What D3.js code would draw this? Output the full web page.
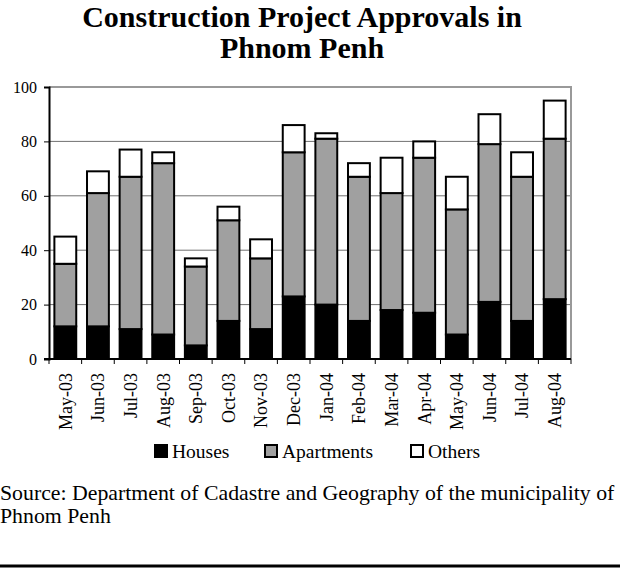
<!DOCTYPE html>
<html>
<head>
<meta charset="utf-8">
<script src="https://cdn.jsdelivr.net/npm/d3@7"></script>
<style>
  body { margin: 0; background: #fff; }
  svg { display: block; }
  text { font-family: "Liberation Serif", "Times New Roman", serif; fill: #000; }
</style>
</head>
<body>
<div id="chart-area"></div>
<script>
// data
var months = ["May-03", "Jun-03", "Jul-03", "Aug-03", "Sep-03", "Oct-03", "Nov-03", "Dec-03",
              "Jan-04", "Feb-04", "Mar-04", "Apr-04", "May-04", "Jun-04", "Jul-04", "Aug-04"];
var houses     = [12, 12, 11, 9, 5, 14, 11, 23, 20, 14, 18, 17, 9, 21, 14, 22];
var apartments = [23, 49, 56, 63, 29, 37, 26, 53, 61, 53, 43, 57, 46, 58, 53, 59];
var others     = [10, 8, 10, 4, 3, 5, 7, 10, 2, 5, 13, 6, 12, 11, 9, 14];
var seriesNames = ["Houses", "Apartments", "Others"];
var yTicks = [0, 20, 40, 60, 80, 100];

var colors = {Houses: "#000000", Apartments: "#a0a0a0", Others: "#ffffff"};

var width = 620, height = 574;
var plot = {left: 49, right: 571, top: 87, bottom: 359};

var svg = d3.select("#chart-area").append("svg")
    .attr("width", width)
    .attr("height", height);

// title
var title = svg.append("text")
    .attr("text-anchor", "middle")
    .attr("font-size", "30px")
    .attr("font-weight", "bold");
title.append("tspan").attr("x", 302).attr("y", 27).text("Construction Project Approvals in");
title.append("tspan").attr("x", 302).attr("y", 58).text("Phnom Penh");

var table = months.map((m, i) => {
  return {month: m, Houses: houses[i], Apartments: apartments[i], Others: others[i]};
});

var x = d3.scaleBand()
    .domain(months)
    .range([plot.left, plot.right])
    .paddingInner(0.33)
    .paddingOuter(0.165);

var y = d3.scaleLinear()
    .domain([0, 100])
    .range([plot.bottom, plot.top]);

// gridlines
svg.append("g")
  .selectAll("line")
  .data(yTicks.filter(d => d > 0 && d < 100))
  .enter().append("line")
    .attr("x1", plot.left).attr("x2", plot.right)
    .attr("y1", d => y(d)).attr("y2", d => y(d))
    .attr("stroke", "#707070")
    .attr("stroke-width", 1);

// plot border (top + right in grey)
svg.append("path")
    .attr("d", "M" + plot.left + "," + y(100) + "H" + plot.right + "V" + y(0))
    .attr("fill", "none")
    .attr("stroke", "#999")
    .attr("stroke-width", 2);

// stacked bars
var stacked = d3.stack().keys(seriesNames)(table);

svg.append("g")
  .selectAll("g")
  .data(stacked)
  .enter().append("g")
    .attr("fill", d => colors[d.key])
  .selectAll("rect")
  .data(d => d)
  .enter().append("rect")
    .attr("x", d => x(d.data.month))
    .attr("y", d => y(d[1]))
    .attr("width", x.bandwidth())
    .attr("height", d => y(d[0]) - y(d[1]))
    .attr("stroke", "#000")
    .attr("stroke-width", 2);

// y axis
var leftAxis = d3.axisLeft(y).tickValues(yTicks).tickSize(5).tickPadding(7);
var gy = svg.append("g")
    .attr("class", "left axis")
    .attr("transform", "translate(" + plot.left + ",0)")
    .call(leftAxis);
gy.select(".domain").attr("stroke", "#000").attr("stroke-width", 2);
gy.selectAll(".tick line").attr("stroke", "#000");
gy.selectAll("text")
    .attr("font-family", null)
    .attr("font-size", "16px");
gy.attr("font-family", null).attr("font-size", null);

// x axis: ticks at category boundaries
var gx = svg.append("g").attr("class", "bottom axis");
gx.append("line")
    .attr("x1", plot.left - 5).attr("x2", plot.right)
    .attr("y1", plot.bottom).attr("y2", plot.bottom)
    .attr("stroke", "#000").attr("stroke-width", 2);
var step = x.step();
var bounds = d3.range(months.length + 1).map(i => plot.left + i * step);
gx.selectAll(".btick")
  .data(bounds)
  .enter().append("line")
    .attr("class", "btick")
    .attr("x1", d => d).attr("x2", d => d)
    .attr("y1", plot.bottom).attr("y2", plot.bottom + 5)
    .attr("stroke", "#000");
gx.selectAll(".mlabel")
  .data(months)
  .enter().append("text")
    .attr("class", "mlabel")
    .attr("transform", d => "translate(" + (x(d) + x.bandwidth() / 2) + "," + 373 + ") rotate(-90)")
    .attr("text-anchor", "end")
    .attr("dy", "0.35em")
    .attr("font-size", "18px")
    .text(d => d);

// legend
var legendX = [154, 264, 410];
var legend = svg.append("g").selectAll("g")
  .data(seriesNames)
  .enter().append("g")
    .attr("transform", (d, i) => "translate(" + legendX[i] + ",444)");
legend.append("rect")
    .attr("x", 1).attr("y", 1)
    .attr("width", 12).attr("height", 12)
    .attr("fill", d => colors[d])
    .attr("stroke", "#000")
    .attr("stroke-width", 2);
legend.append("text")
    .attr("x", 18).attr("y", 13.5)
    .attr("font-size", "19.5px")
    .text(d => d);

// source note
var note = svg.append("text").attr("font-size", "21.8px");
note.append("tspan").attr("x", 0).attr("y", 500)
    .text("Source: Department of Cadastre and Geography of the municipality of");
note.append("tspan").attr("x", 0).attr("y", 523).text("Phnom Penh");

svg.append("line")
    .attr("x1", 0).attr("x2", width)
    .attr("y1", 566).attr("y2", 566)
    .attr("stroke", "#000")
    .attr("stroke-width", 3);
</script>
</body>
</html>
